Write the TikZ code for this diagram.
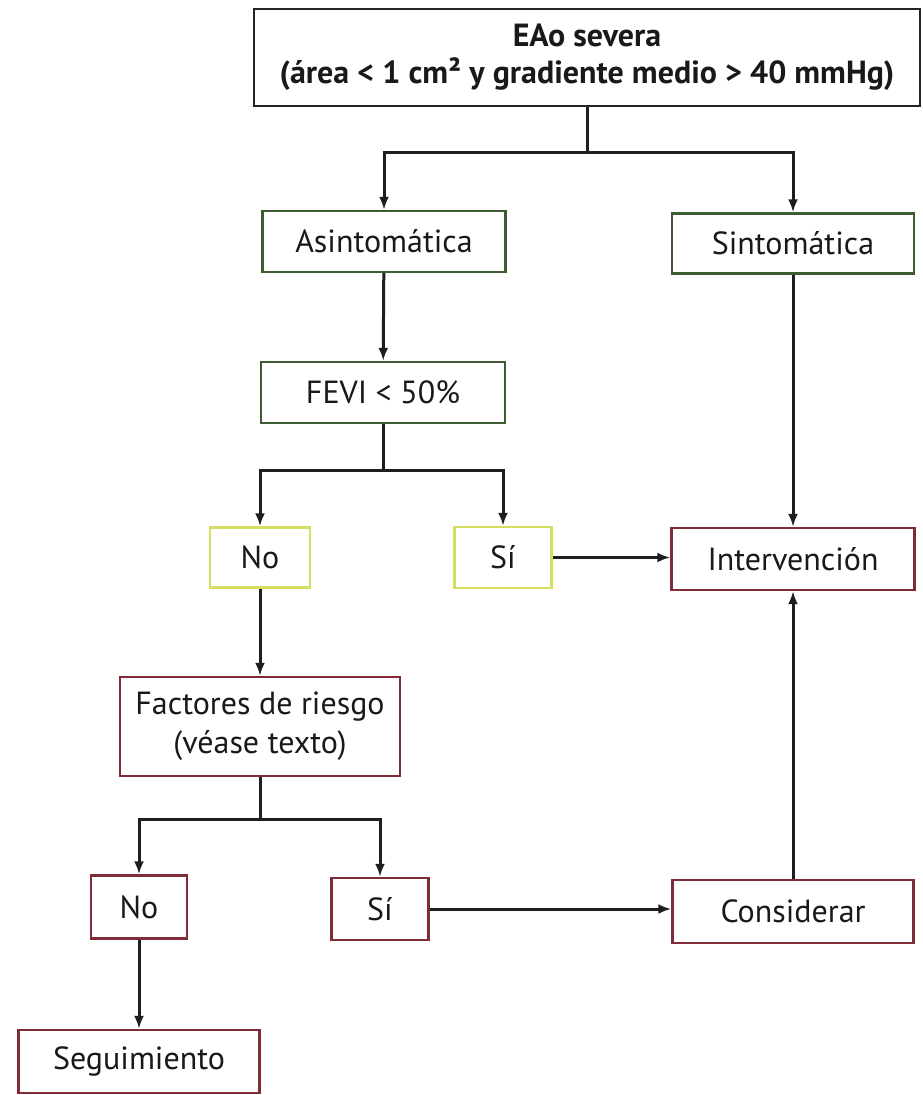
\documentclass[tikz,border=0pt]{standalone}
\usepackage{fontspec}
\setmainfont{PT Sans}
\usetikzlibrary{arrows.meta}

\definecolor{boxblack}{RGB}{35,35,35}
\definecolor{boxgreen}{RGB}{62,92,52}
\definecolor{boxyellow}{RGB}{214,222,96}
\definecolor{boxred}{RGB}{128,44,56}
\definecolor{linegray}{RGB}{30,30,30}

\tikzset{
  basebox/.style={draw, rectangle, line width=2.4pt, fill=white, inner sep=0pt,
    align=center, text=black!90, font=\fontsize{32}{39}\selectfont},
  topbox/.style={basebox, draw=boxblack, font=\fontsize{32}{37}\selectfont\bfseries},
  greenbox/.style={basebox, draw=boxgreen},
  yellowbox/.style={basebox, draw=boxyellow},
  redbox/.style={basebox, draw=boxred},
  link/.style={draw=linegray, line width=3pt},
  arrowlink/.style={link, -{Latex[length=13pt,width=10pt]}},
}

\begin{document}
\begin{tikzpicture}[x=1pt,y=-1pt]
\useasboundingbox (0,0) rectangle (923,1095);

% boxes
\node[topbox, minimum width=666pt, minimum height=97pt] (top) at (587,57.5)
  {EAo severa\\(área < 1 cm² y gradiente medio > 40 mmHg)};
\node[greenbox, minimum width=243pt, minimum height=61pt] (asin) at (384,241.5) {Asintomática};
\node[greenbox, minimum width=242pt, minimum height=60pt] (sint) at (793,243.5) {Sintomática};
\node[greenbox, minimum width=244pt, minimum height=61pt] (fevi) at (383,392.5) {FEVI < 50\%};
\node[yellowbox, minimum width=100pt, minimum height=60pt] (no1) at (260,557.5) {No};
\node[yellowbox, minimum width=97pt, minimum height=61pt] (si1) at (503,557.5) {Sí};
\node[redbox, minimum width=243pt, minimum height=62pt] (interv) at (793,559) {Intervención};
\node[redbox, minimum width=280pt, minimum height=99pt] (fact) at (260,726.5)
  {Factores de riesgo\\(véase texto)};
\node[redbox, minimum width=96pt, minimum height=63pt] (no2) at (139,907) {No};
\node[redbox, minimum width=97pt, minimum height=62pt] (si2) at (380,909) {Sí};
\node[redbox, minimum width=241pt, minimum height=63pt] (cons) at (793,911.5) {Considerar};
\node[redbox, minimum width=241pt, minimum height=63pt] (seg) at (139,1061.5) {Seguimiento};

% first split
\draw[link] (top.south) -- ++(0,45) coordinate (j1);
\draw[arrowlink] (j1) -| (asin.north);
\draw[arrowlink] (j1) -| (sint.north);

\draw[arrowlink] (asin) -- (fevi);

% FEVI split
\draw[link] (fevi.south) -- ++(0,46) coordinate (j2);
\draw[arrowlink] (j2) -| (no1.north);
\draw[arrowlink] (j2) -| (si1.north);

\draw[arrowlink] (si1.east) -- (si1.east -| interv.west);
\draw[arrowlink] (sint) -- (interv);
\draw[arrowlink] (no1) -- (fact);

% risk factor split
\draw[link] (fact.south) -- ++(0,42) coordinate (j3);
\draw[arrowlink] (j3) -| (no2.north);
\draw[arrowlink] (j3) -| (si2.north);

\draw[arrowlink] (si2.east) -- (si2.east -| cons.west);
\draw[arrowlink] (cons) -- (interv);
\draw[arrowlink] (no2) -- (seg);
\end{tikzpicture}
\end{document}
